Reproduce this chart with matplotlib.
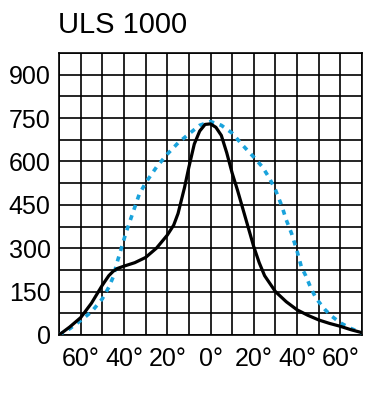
import numpy as np
import matplotlib
matplotlib.use("Agg")
import matplotlib.pyplot as plt

# values (angle in degrees, intensity cd/klm)
black_angle = [-70, -65, -60, -55, -50, -47, -45, -43, -40, -35, -30, -25, -20, -17, -15,
               -12, -10, -7.5, -5, -2.5, 0, 2.5, 5, 7.5, 10, 12.5, 15, 17.5, 20, 22.5,
               25, 30, 35, 40, 45, 50, 55, 60, 65, 70]
black_value = [0, 28, 60, 110, 172, 205, 220, 230, 238, 250, 268, 300, 345, 380, 420,
               510, 580, 660, 705, 728, 730, 718, 690, 630, 560, 500, 435, 370, 305, 250,
               205, 150, 115, 87, 68, 52, 40, 30, 18, 8]

blue_angle = [-70, -65, -60, -55, -50, -47, -45, -43, -41, -39, -36, -33, -30, -25, -20,
              -15, -10, -5, 0, 5, 10, 15, 20, 24, 27, 30, 33, 35, 37.5, 40, 42, 44,
              46.5, 48.5, 50, 53, 56, 60, 65, 70]
blue_value = [0, 22, 50, 80, 125, 165, 200, 255, 305, 355, 420, 485, 526, 580, 625,
              664, 695, 725, 738, 725, 698, 655, 615, 581, 545, 502, 445, 398, 350, 290,
              235, 205, 160, 131, 115, 87, 65, 42, 22, 7]

x_ticks = [-60, -40, -20, 0, 20, 40, 60]
y_ticks = [0, 150, 300, 450, 600, 750, 900]
title = "ULS 1000"

fig = plt.figure(figsize=(3.9, 3.97), dpi=100)
ax = fig.add_axes([0.1513, 0.1562, 0.7769, 0.7103])

ax.plot(blue_angle, blue_value, color="#1aa3dc", lw=2.6,
        linestyle=(0, (1.4, 1.6)), zorder=3)
ax.plot(black_angle, black_value, color="black", lw=2.3, zorder=4,
        solid_joinstyle="round", solid_capstyle="round")

ax.set_xlim(-70, 70)
ax.set_ylim(0, 975)
ax.set_xticks(np.arange(-70, 71, 10), minor=True)
ax.set_yticks(np.arange(0, 976, 75), minor=True)
ax.set_xticks(x_ticks)
ax.set_xticklabels([f"{abs(v)}°" for v in x_ticks])
ax.set_yticks(y_ticks)
ax.grid(which="both", color="black", lw=1.2)
ax.set_axisbelow(True)
ax.tick_params(which="both", length=0)
ax.tick_params(axis="y", pad=6)
ax.tick_params(axis="x", pad=9)
for lab in ax.get_xticklabels() + ax.get_yticklabels():
    lab.set_fontfamily("Liberation Sans")
    lab.set_fontsize(18)
for sp in ax.spines.values():
    sp.set_linewidth(1.2)

fig.text(58 / 390, 1 - 33 / 397, title, fontsize=21, family="Liberation Sans",
         ha="left", va="baseline")

fig.savefig("out.png", dpi=100)
